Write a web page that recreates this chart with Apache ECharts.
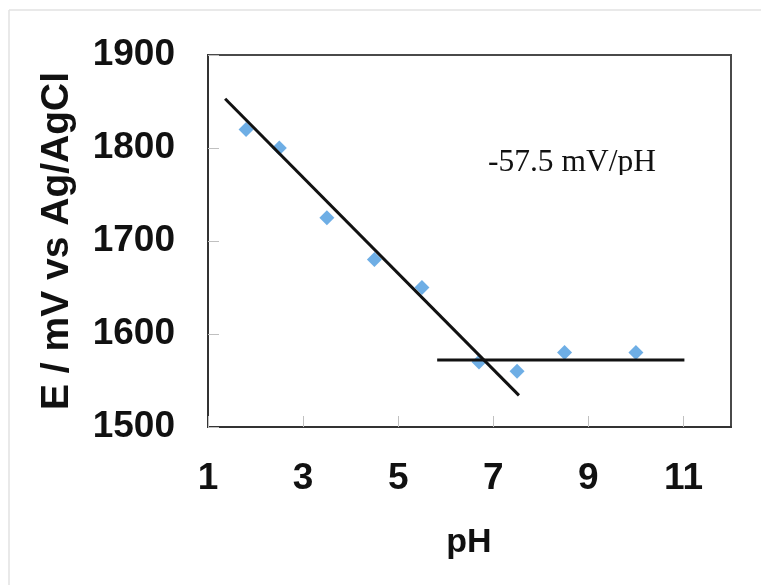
<!DOCTYPE html>
<html>
<head>
<meta charset="utf-8">
<script src="https://cdn.jsdelivr.net/npm/echarts@6/dist/echarts.min.js"></script>
<style>html,body{margin:0;padding:0;background:#fff;}#c{width:761px;height:585px;}</style>
</head>
<body>
<div id="c"></div>
<script>
// Measured data
var pH = [1.8, 2.5, 3.5, 4.5, 5.5, 6.7, 7.5, 8.5, 10];
var E = [1820, 1800, 1725, 1680, 1650, 1570, 1560, 1580, 1580];
// Fitted lines drawn in the figure (end points)
var fitSlopeX = [1.36, 7.54];
var fitSlopeY = [1853, 1534];
var fitFlatX = [5.82, 11.02];
var fitFlatY = [1572, 1572];
var xTicks = [1, 3, 5, 7, 9, 11];
var yTicks = [1500, 1600, 1700, 1800, 1900];
var annotation = '-57.5 mV/pH';
var xTitle = 'pH';
var yTitle = 'E / mV vs Ag/AgCl';

var pts = pH.map(function (x, i) { return [x, E[i]]; });
var l1 = fitSlopeX.map(function (x, i) { return [x, fitSlopeY[i]]; });
var l2 = fitFlatX.map(function (x, i) { return [x, fitFlatY[i]]; });

var chart = echarts.init(document.getElementById('c'), null, {renderer: 'canvas'});
var sans = "'Liberation Sans', Arial, sans-serif";
chart.setOption({
  backgroundColor: '#fff',
  animation: false,
  grid: {left: 208, top: 55, right: 30, bottom: 158, show: true, borderColor: '#4a4a4a', borderWidth: 2, backgroundColor: 'transparent'},
  xAxis: {
    type: 'value', min: 1, max: 12,
    axisLine: {show: true, lineStyle: {color: '#333', width: 2}},
    axisTick: {show: true, inside: true, length: 11, lineStyle: {color: '#c0c0c0', width: 1}, customValues: xTicks},
    axisLabel: {show: true, customValues: xTicks, margin: 33, fontFamily: sans, fontWeight: 'bold', fontSize: 37, color: '#111',
      formatter: function (v) { return String(v); }},
    splitLine: {show: false}
  },
  yAxis: {
    type: 'value', min: 1500, max: 1900, interval: 100,
    axisLine: {show: true, lineStyle: {color: '#333', width: 2}},
    axisTick: {show: true, inside: true, length: 11, lineStyle: {color: '#c0c0c0', width: 1}},
    axisLabel: {show: true, margin: 33, fontFamily: sans, fontWeight: 'bold', fontSize: 37, color: '#111',
      customValues: yTicks, formatter: function (v) { return String(v); }},
    splitLine: {show: false}
  },
  series: [
    {type: 'scatter', data: pts, symbol: 'diamond', symbolSize: 15, itemStyle: {color: '#4a9ade'}, z: 2},
    {type: 'line', data: l1, showSymbol: false, symbol: 'none', lineStyle: {color: '#111', width: 3}, z: 3},
    {type: 'line', data: l2, showSymbol: false, symbol: 'none', lineStyle: {color: '#111', width: 3}, z: 3}
  ],
  graphic: [
    {type: 'line', shape: {x1: 9, y1: 10, x2: 761, y2: 10}, style: {stroke: '#e2e2e2', lineWidth: 1.5}},
    {type: 'line', shape: {x1: 9, y1: 10, x2: 9, y2: 585}, style: {stroke: '#e2e2e2', lineWidth: 1.5}},
    {type: 'text', x: 57, y: 241, rotation: Math.PI / 2,
      style: {text: yTitle, font: 'bold 39px ' + sans, fill: '#111', textAlign: 'center', textVerticalAlign: 'middle'}},
    {type: 'text', x: 469, y: 543,
      style: {text: xTitle, font: 'bold 34px ' + sans, fill: '#111', textAlign: 'center', textVerticalAlign: 'middle'}},
    {type: 'text', x: 488, y: 163, z: 10,
      style: {text: annotation, font: "31.5px 'Liberation Serif', 'Times New Roman', serif", fill: '#111', textAlign: 'left', textVerticalAlign: 'middle'}},
    {type: 'rect', shape: {x: 484, y: 175, width: 185, height: 10}, z: 11, style: {fill: '#fff'}}
  ]
});
</script>
</body>
</html>
